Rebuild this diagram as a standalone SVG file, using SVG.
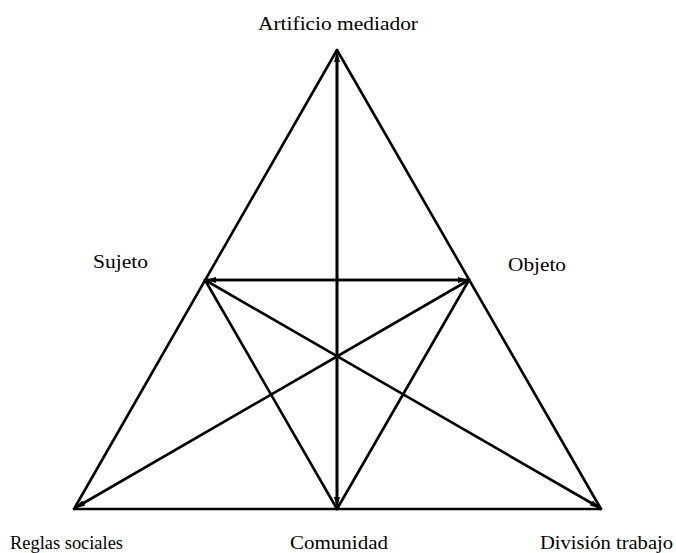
<svg xmlns="http://www.w3.org/2000/svg" width="676" height="553" viewBox="0 0 676 553">
<style>
.e{stroke:#000;stroke-width:2.6;fill:none;stroke-linecap:round}
.lbl{font-family:"Liberation Serif","Times New Roman",serif;font-size:19px;fill:#000}
</style>
<defs>
<marker id="ah" viewBox="0 0 10 6" refX="10" refY="3" markerWidth="10" markerHeight="6" markerUnits="userSpaceOnUse" orient="auto">
<path d="M0,0 L10,3 L0,6 Z" fill="#000"/>
</marker>
</defs>
<rect width="676" height="553" fill="#fff"/>
<g id="connectors">
<line class="e" x1="337" y1="50" x2="74" y2="509"/>
<line class="e" x1="337" y1="50" x2="601" y2="509"/>
<line class="e" x1="74" y1="509" x2="601" y2="509"/>
<line class="e" x1="337" y1="509" x2="337" y2="52" marker-end="url(#ah)"/>
<line class="e" x1="337" y1="60" x2="337" y2="507" marker-end="url(#ah)"/>
<line class="e" x1="469" y1="280" x2="206" y2="280" marker-end="url(#ah)"/>
<line class="e" x1="206" y1="280" x2="468" y2="280" marker-end="url(#ah)"/>
<line class="e" x1="205" y1="280" x2="600" y2="508" marker-end="url(#ah)"/>
<line class="e" x1="469" y1="280" x2="75" y2="508" marker-end="url(#ah)"/>
<line class="e" x1="205" y1="280" x2="337" y2="509"/>
<line class="e" x1="469" y1="280" x2="337" y2="509"/>
</g>
<g id="artificio"><text class="lbl" x="338" y="30" text-anchor="middle" textLength="160" lengthAdjust="spacingAndGlyphs">Artificio mediador</text></g>
<g id="sujeto"><text class="lbl" x="93" y="268" textLength="55" lengthAdjust="spacingAndGlyphs">Sujeto</text></g>
<g id="objeto"><text class="lbl" x="508" y="271" textLength="58" lengthAdjust="spacingAndGlyphs">Objeto</text></g>
<g id="reglas"><text class="lbl" x="10" y="549" textLength="113" lengthAdjust="spacingAndGlyphs">Reglas sociales</text></g>
<g id="comunidad"><text class="lbl" x="290" y="549" textLength="98" lengthAdjust="spacingAndGlyphs">Comunidad</text></g>
<g id="division"><text class="lbl" x="540" y="549" textLength="133" lengthAdjust="spacingAndGlyphs">División trabajo</text></g>
</svg>
